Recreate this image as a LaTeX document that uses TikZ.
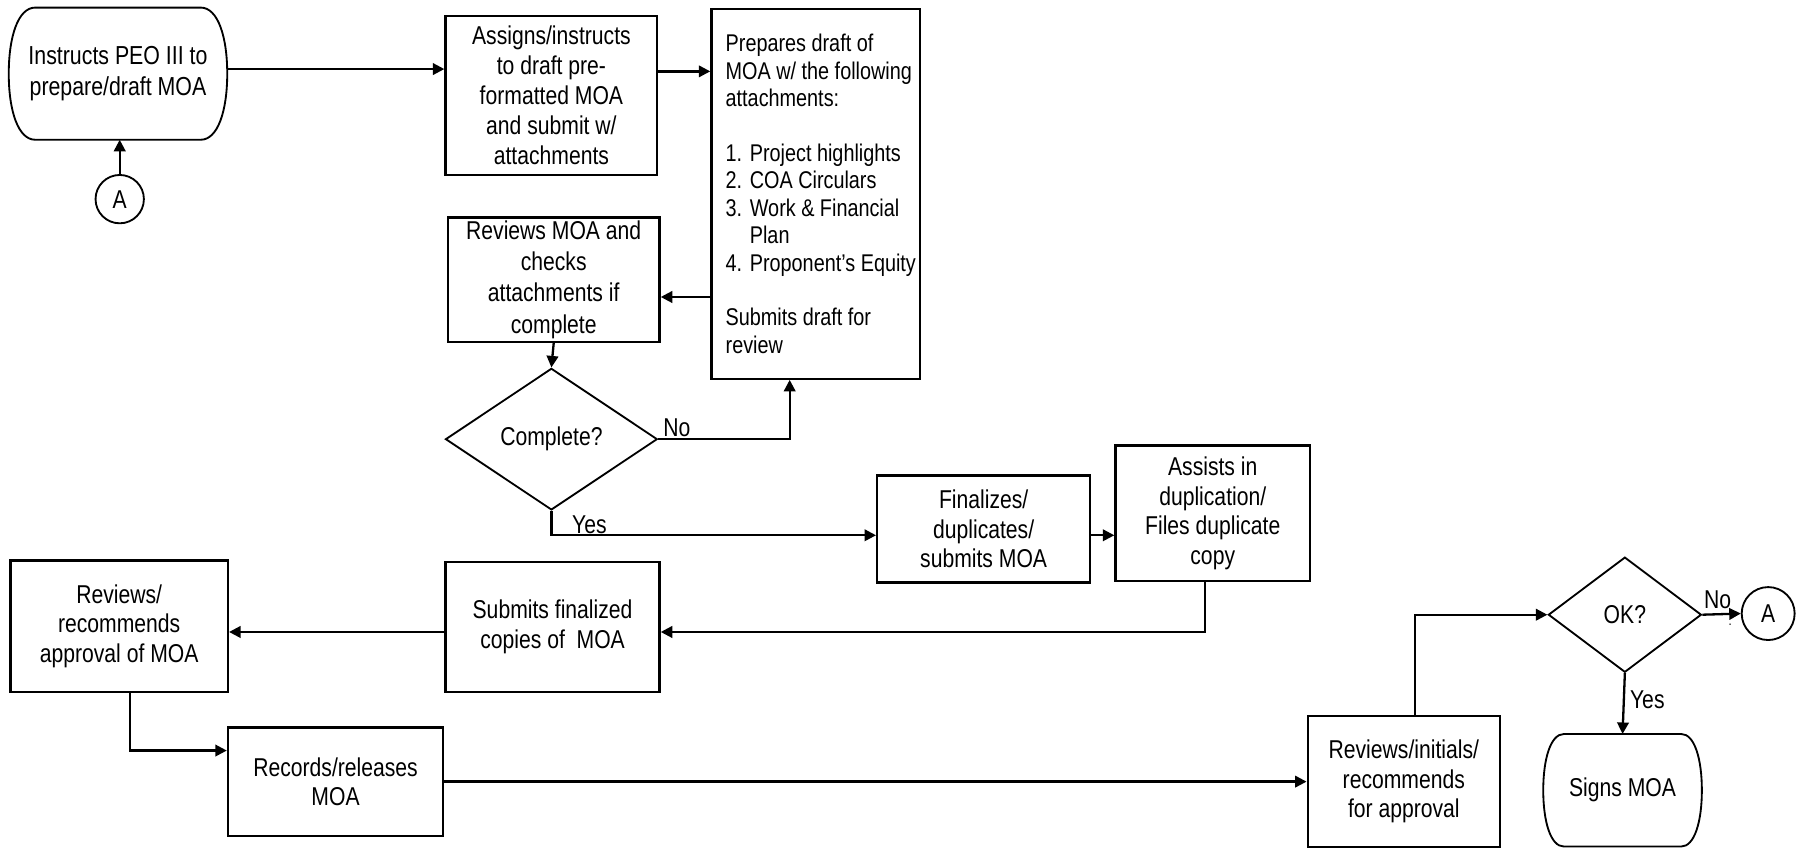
\documentclass[tikz,border=0pt]{standalone}
\usepackage{fontspec}
\IfFontExistsTF{Liberation Sans Narrow}{\setmainfont{Liberation Sans Narrow}}{\setmainfont[FakeStretch=0.82]{Liberation Sans}}
\usetikzlibrary{arrows.meta,shapes.geometric,calc}
\tikzset{
 txt/.style={font=\fontsize{11.2}{12.8}\selectfont, align=center},
 box/.style={draw, rectangle, line width=1pt, inner sep=0pt, txt},
 term/.style={rectangle, inner sep=0pt, txt},
 dec/.style={draw, diamond, line width=0.8pt, inner sep=0pt, txt},
 conn/.style={draw, circle, line width=0.8pt, inner sep=0pt, txt},
 arr/.style={line width=1pt, -{Triangle[length=5pt,width=5pt]}},
 lbl/.style={font=\fontsize{11.2}{12.8}\selectfont, inner sep=0pt},
}
\newcommand{\termoutline}[3]{%
 \draw[line width=0.8pt]
 ($(#1.north west)+(#2,0)$) -- ($(#1.north east)+(-#2,0)$)
 .. controls ($(#1.north east)+(-0.35*#2,0)$) and ($(#1.east)+(0,#3)$) .. (#1.east)
 .. controls ($(#1.east)+(0,-#3)$) and ($(#1.south east)+(-0.35*#2,0)$) .. ($(#1.south east)+(-#2,0)$)
 -- ($(#1.south west)+(#2,0)$)
 .. controls ($(#1.south west)+(0.35*#2,0)$) and ($(#1.west)+(0,-#3)$) .. (#1.west)
 .. controls ($(#1.west)+(0,#3)$) and ($(#1.north west)+(0.35*#2,0)$) .. ($(#1.north west)+(#2,0)$) -- cycle;}
\begin{document}
\begin{tikzpicture}[x=0.5pt,y=-0.5pt]
\useasboundingbox[fill=white] (0,0) rectangle (1568,736.7);
% nodes
\node[term, minimum width=94.5pt, minimum height=57pt, font=\fontsize{11.3}{13.5}\selectfont] (t1) at (102.5,64) {Instructs PEO III to\\prepare/draft MOA};
\termoutline{t1}{11.5pt}{16pt}
\node[conn, minimum size=21pt] (a1) at (104,173) {A};
\node[box, minimum width=92pt, minimum height=69pt, font=\fontsize{11.2}{13}\selectfont] (b1) at (479,83) {Assigns/instructs\\to draft pre-\\formatted MOA\\and submit w/\\attachments};
\node[box, minimum width=90.5pt, minimum height=160.5pt] (p) at (708.5,168.5) {};
\node[txt, align=left, anchor=west, inner sep=0pt, font=\fontsize{10.5}{11.9}\selectfont] (ptext) at (630,168.5) {Prepares draft of\\
MOA w/ the following\\
attachments:\\[11.9pt]
\makebox[10.5pt][l]{1.}Project highlights\\
\makebox[10.5pt][l]{2.}COA Circulars\\
\makebox[10.5pt][l]{3.}Work \& Financial\\
\hspace*{10.5pt}Plan\\
\makebox[10.5pt][l]{4.}Proponent’s Equity\\[11.9pt]
Submits draft for\\
review};
\node[box, minimum width=92pt, minimum height=54pt, font=\fontsize{11.2}{13.5}\selectfont] (r) at (481,243) {Reviews MOA and\\checks\\attachments if\\complete};
\node[dec, minimum width=92pt, minimum height=61.5pt] (d1) at (479,381.5) {Complete?};
\node[box, minimum width=92.5pt, minimum height=46.5pt] (f) at (854.5,459.5) {Finalizes/\\duplicates/\\submits MOA};
\node[box, minimum width=84.5pt, minimum height=59pt] (as) at (1053.5,446) {Assists in\\duplication/\\Files duplicate\\copy};
\node[box, minimum width=93pt, minimum height=56.5pt] (s) at (480,544.5) {Submits finalized\\copies of~ MOA};
\node[box, minimum width=94.5pt, minimum height=57pt] (rr) at (103.5,544) {Reviews/\\recommends\\approval of MOA};
\node[box, minimum width=93.5pt, minimum height=47pt] (rec) at (291.5,679) {Records/releases\\MOA};
\node[box, minimum width=83.5pt, minimum height=57pt] (ri) at (1219.5,679) {Reviews/initials/\\recommends\\for approval};
\node[dec, minimum width=66.5pt, minimum height=50pt] (d2) at (1411.5,534) {OK?};
\node[conn, minimum size=23pt] (a2) at (1536,533) {A};
\node[term, minimum width=68.5pt, minimum height=48.5pt] (sg) at (1409.5,686.5) {Signs MOA};
\termoutline{sg}{9pt}{13.5pt}
% labels
\node[lbl] (no1) at (588,372) {No};
\node[lbl] (yes1) at (512,456) {Yes};
\node[lbl] (no2) at (1492,521) {No};
\node[lbl, font=\fontsize{6}{7}\selectfont] (dot) at (1503,543) {.};
\node[lbl] (yes2) at (1431,608) {Yes};
% connectors
\draw[arr] ([yshift=2pt]t1.east) -- ([yshift=2pt]t1.east -| b1.west);
\draw[arr] (a1.north) -- (a1.north |- t1.south);
\draw[arr] ([yshift=10.5pt]b1.east) -- ([yshift=10.5pt]b1.east -| p.west);
\draw[arr] ([yshift=-7.5pt]r.east -| p.west) -- ([yshift=-7.5pt]r.east);
\draw[arr] (r.south) -- (d1.north);
\draw[arr] (d1.east) -| ([xshift=-11.25pt]p.south);
\draw[arr] (d1.south) |- ([yshift=-2.75pt]f.west);
\draw[arr] ([yshift=-2.75pt]f.east) -- ([yshift=-2.75pt]f.east -| as.west);
\draw[arr] ([xshift=-3.25pt]as.south) |- ([yshift=-2.25pt]s.east);
\draw[arr] ([yshift=-2.25pt]s.west) -- ([yshift=-2.25pt]s.west -| rr.east);
\draw[arr] ([xshift=4.75pt]rr.south) |- ([yshift=13.5pt]rec.west);
\draw[arr] (rec.east) -- (rec.east -| ri.west);
\draw[arr] ([xshift=4.75pt]ri.north) |- (d2.west);
\draw[arr] (d2.east) -- (a2.west);
\draw[arr] (d2.south) -- (sg.north);
\end{tikzpicture}
\end{document}
